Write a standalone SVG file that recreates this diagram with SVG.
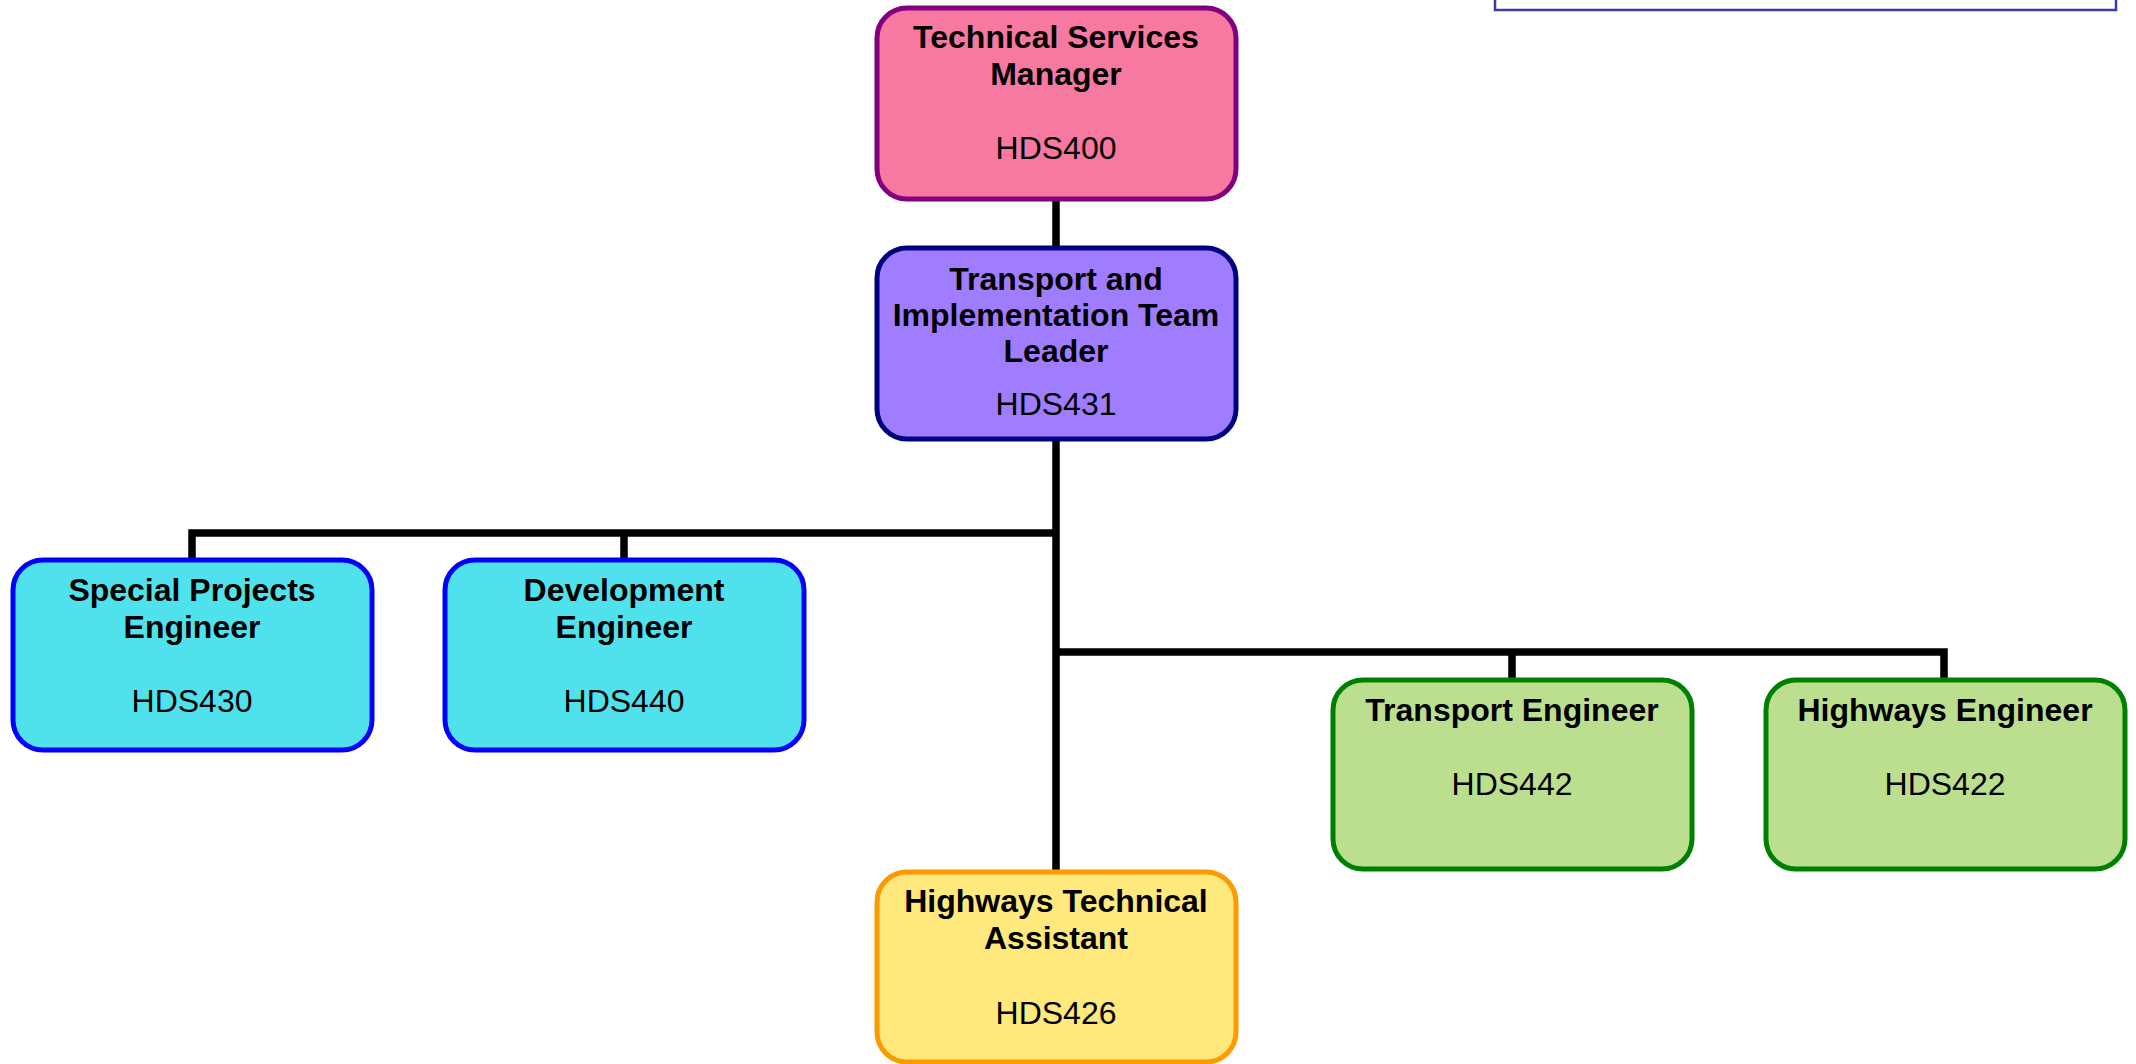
<svg xmlns="http://www.w3.org/2000/svg" width="2136" height="1064" viewBox="0 0 2136 1064">
<style>
.box{stroke-width:5}
.t{font-family:"Liberation Sans",Arial,sans-serif;font-size:32px;fill:#000;text-anchor:middle}
.b{font-weight:bold}
.conn{fill:none;stroke:#000;stroke-width:7.5;stroke-linejoin:miter;stroke-linecap:butt}
.pink{fill:#F778A1;stroke:#800080}
.purple{fill:#A07CFF;stroke:#000080}
.cyan{fill:#50E2EC;stroke:#0000FF}
.green{fill:#BCDF8F;stroke:#008000}
.yellow{fill:#FFE87C;stroke:#FF9900}
</style>
<rect x="0" y="0" width="2136" height="1064" fill="#ffffff"/>
<rect x="1495" y="-20" width="621" height="30" fill="#ffffff" stroke="#3A3AA6" stroke-width="2.5"/>
<g id="connectors">
<path class="conn" d="M1056 200 V247"/>
<path class="conn" d="M1056 440 V871"/>
<path class="conn" d="M192 559 V533 H1056"/>
<path class="conn" d="M624 533 V559"/>
<path class="conn" d="M1056 652 H1944 V679"/>
<path class="conn" d="M1512 652 V679"/>
</g>
<g id="node-hds400">
<rect class="box pink" x="877" y="8" width="359" height="191" rx="30"/>
<text class="t b" x="1056" y="48">Technical Services</text>
<text class="t b" x="1056" y="85">Manager</text>
<text class="t" x="1056" y="159">HDS400</text>
</g>
<g id="node-hds431">
<rect class="box purple" x="877" y="248" width="359" height="191" rx="30"/>
<text class="t b" x="1056" y="290">Transport and</text>
<text class="t b" x="1056" y="326">Implementation Team</text>
<text class="t b" x="1056" y="362">Leader</text>
<text class="t" x="1056" y="415">HDS431</text>
</g>
<g id="node-hds430">
<rect class="box cyan" x="13" y="560" width="359" height="190" rx="30"/>
<text class="t b" x="192" y="601">Special Projects</text>
<text class="t b" x="192" y="638">Engineer</text>
<text class="t" x="192" y="712">HDS430</text>
</g>
<g id="node-hds440">
<rect class="box cyan" x="445" y="560" width="359" height="190" rx="30"/>
<text class="t b" x="624" y="601">Development</text>
<text class="t b" x="624" y="638">Engineer</text>
<text class="t" x="624" y="712">HDS440</text>
</g>
<g id="node-hds442">
<rect class="box green" x="1333" y="680" width="359" height="189" rx="30"/>
<text class="t b" x="1512" y="721">Transport Engineer</text>
<text class="t" x="1512" y="795">HDS442</text>
</g>
<g id="node-hds422">
<rect class="box green" x="1766" y="680" width="359" height="189" rx="30"/>
<text class="t b" x="1945" y="721">Highways Engineer</text>
<text class="t" x="1945" y="795">HDS422</text>
</g>
<g id="node-hds426">
<rect class="box yellow" x="877" y="872" width="359" height="190" rx="30"/>
<text class="t b" x="1056" y="912">Highways Technical</text>
<text class="t b" x="1056" y="949">Assistant</text>
<text class="t" x="1056" y="1024">HDS426</text>
</g>
</svg>
